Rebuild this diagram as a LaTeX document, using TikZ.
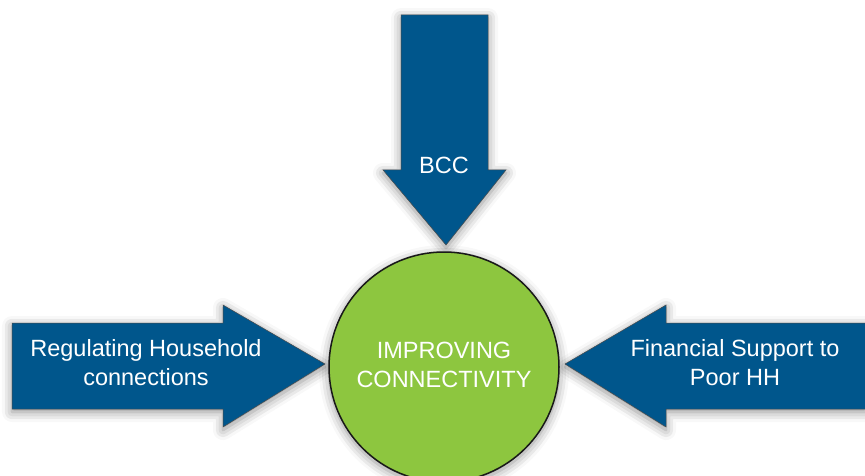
\documentclass[tikz,border=0pt]{standalone}
\usepackage{fontspec}
\setmainfont{Liberation Sans}
\usetikzlibrary{shadows.blur}
\definecolor{arrowblue}{HTML}{00568C}
\definecolor{circgreen}{HTML}{8DC63F}
\tikzset{
  softshadow/.style={blur shadow={shadow xshift=0pt, shadow yshift=-3pt, shadow blur radius=10pt, shadow opacity=45}},
  bigarrow/.style={fill=arrowblue, draw=black!70, line width=0.5pt, softshadow},
  hub/.style={fill=circgreen, draw=black!90, line width=1.5pt, softshadow},
  lbl/.style={text=white, font=\fontsize{23.5}{29}\selectfont, align=center, inner sep=0pt}
}
\begin{document}
\begin{tikzpicture}[x=1pt,y=-1pt]
\useasboundingbox (0,0) rectangle (865,476);
% top arrow
\path[bigarrow] (401,15) -- (488,15) -- (488,170) -- (506,170) -- (446,245) -- (383,170) -- (401,170) -- cycle;
% left arrow
\path[bigarrow] (12,323) -- (223,323) -- (223,305) -- (325,364) -- (223,427) -- (223,409) -- (12,409) -- cycle;
% right arrow
\path[bigarrow] (866,323) -- (666,323) -- (666,305) -- (565,364) -- (666,427) -- (666,409) -- (866,409) -- cycle;
% circle
\path[hub] (444,367) circle[radius=115];
% labels
\node[lbl, anchor=base] (bcc) at (444,173) {BCC};
\node[lbl, anchor=base] (reg) at (146,385) {Regulating Household\\connections};
\node[lbl, anchor=base] (fin) at (735,385) {Financial Support to\\Poor HH};
\node[lbl, anchor=base] (imp) at (444,387) {IMPROVING\\CONNECTIVITY};
\end{tikzpicture}
\end{document}
